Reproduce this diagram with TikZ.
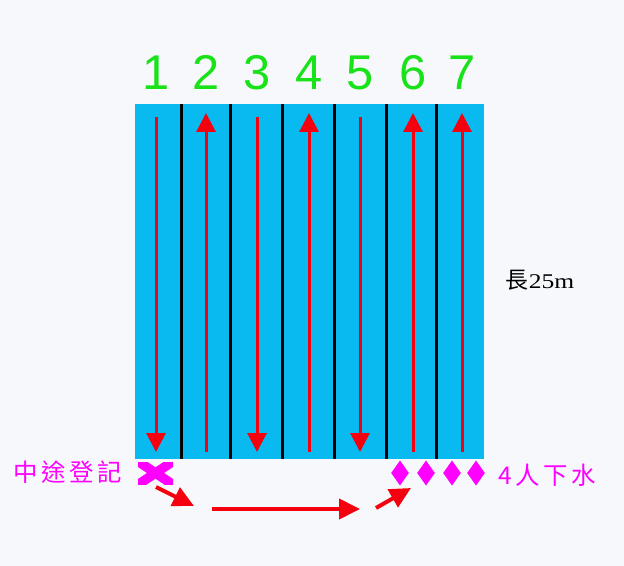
\documentclass[tikz,border=0pt]{standalone}
\usepackage{fontspec}
\setmainfont{Liberation Sans}
\newfontfamily\cjk{Noto Sans CJK TC}
\newfontfamily\cjksp[LetterSpace=14]{Noto Sans CJK TC}
\newfontfamily\serifnum{Liberation Serif}
\usetikzlibrary{arrows.meta,shapes.geometric}
\definecolor{bgc}{HTML}{F7F8FC}
\definecolor{poolc}{HTML}{09BAF0}
\definecolor{arrc}{HTML}{F5000F}
\definecolor{numc}{HTML}{18E318}
\definecolor{magc}{HTML}{FF00FF}
\tikzset{
  lanearrow/.style={draw=arrc, line width=3bp, -{Triangle[width=19bp,length=19bp]}, color=arrc},
  movearrow/.style={draw=arrc, line width=4bp, -{Triangle[width=20bp,length=21bp]}, color=arrc},
  laneline/.style={draw=black, line width=3bp},
  lanenum/.style={text=numc, font=\fontsize{49}{49}\selectfont, anchor=base, inner sep=0},
  dia/.style={fill=magc},
  lbl/.style={text=magc, inner sep=0}
}
\begin{document}
\begin{tikzpicture}[x=1bp,y=-1bp]
\fill[bgc] (0,0) rectangle (624,566);
\useasboundingbox (0,0) rectangle (624,566);
% pool
\node[fill=poolc, minimum width=349bp, minimum height=355bp, inner sep=0, anchor=north west] (pool) at (135,104) {};
% lane lines
\foreach \x [count=\i] in {181,230,282,334,386,436}{
  \coordinate (lt\i) at (\x,104);
  \coordinate (lb\i) at (\x,459);
  \draw[laneline] (lt\i) -- (lb\i);
}
% lane numbers and arrows
\foreach \x [count=\i] in {156,206,257,309,360,413,462}{
  \node[lanenum] (n\i) at (\x,90) {\i};
  \coordinate (at\i) at (\x,113);
  \coordinate (ab\i) at (\x,452);
  \coordinate (dt\i) at (\x,117);
}
\foreach \i in {1,3,5}{\draw[lanearrow] (dt\i) -- (ab\i);}
\foreach \i in {2,4,6,7}{\draw[lanearrow] (ab\i) -- (at\i);}
% X mark
\coordinate (xm) at (155.5,473);
\begin{scope}
\clip (138,462) rectangle (173,484);
\draw[magc, line width=9.5bp] ([shift={(-19.5,-13)}]xm) -- ([shift={(19.5,13)}]xm);
\draw[magc, line width=9.5bp] ([shift={(19.5,-13)}]xm) -- ([shift={(-19.5,13)}]xm);
\end{scope}
% diamonds
\foreach \x [count=\i] in {400,426,452,476}{
  \coordinate (d\i) at (\x,473);
  \fill[dia] ([shift={(0,-12.5)}]d\i) -- ([shift={(8.8,0)}]d\i) -- ([shift={(0,12.5)}]d\i) -- ([shift={(-8.8,0)}]d\i) -- cycle;
}
% labels
\node[lbl, font=\cjksp\fontsize{24.5}{24.5}\selectfont] (reg) at (67.5,472) {中途登記};
\node[lbl, font=\cjksp\fontsize{24.5}{24.5}\selectfont] (enter) at (547,475) {4人下水};
\node[inner sep=0] (len) at (540,280) {{\cjk\fontsize{23}{23}\selectfont 長}{\serifnum\fontsize{21}{21}\selectfont\scalebox{1.22}[1]{25m}}};
% movement arrows
\coordinate (m1a) at (156,487);
\coordinate (m1b) at (194,506);
\coordinate (m2a) at (212,509);
\coordinate (m2b) at (360,509);
\coordinate (m3a) at (376,508);
\coordinate (m3b) at (411,488);
\draw[movearrow] (m1a) -- (m1b);
\draw[movearrow] (m2a) -- (m2b);
\draw[movearrow] (m3a) -- (m3b);
\end{tikzpicture}
\end{document}
